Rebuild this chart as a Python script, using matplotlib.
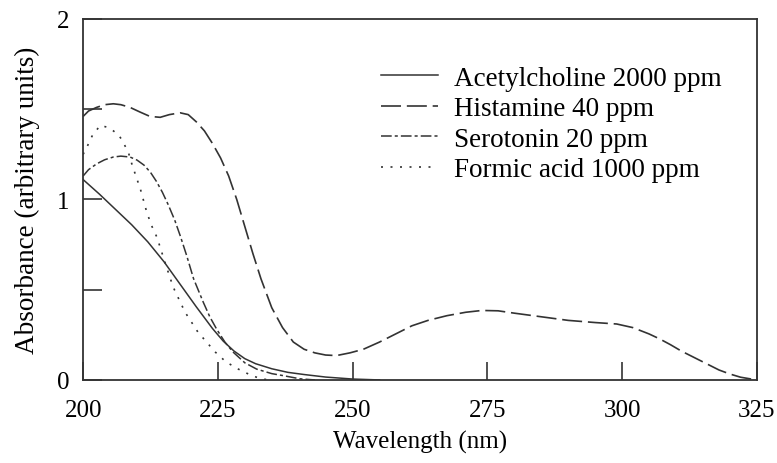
import matplotlib.pyplot as plt
from matplotlib.ticker import FixedLocator, NullFormatter

plt.rcParams['font.family'] = ['Liberation Serif', 'DejaVu Serif']

# acetylcholine 2000 ppm
ach_x = [200, 203, 206, 209, 212, 215, 218, 221, 224, 226, 228, 230, 232, 235, 238, 241, 245, 250, 255]
ach_y = [1.11, 1.03, 0.945, 0.86, 0.765, 0.655, 0.53, 0.405, 0.285, 0.215, 0.16, 0.118, 0.09, 0.062, 0.042, 0.03, 0.016, 0.005, 0.0]

# histamine 40 ppm
his_x = [200, 201, 202.5, 204, 205.6, 207, 208.7, 210.5, 212.4, 214.3, 216, 218, 219.5, 221, 222.5, 224, 225.5, 227, 228.5,
         230, 231.5, 233, 235, 237, 239, 241, 243, 245, 247, 249.5, 252, 255, 258, 261, 264, 267.5, 271, 274, 277,
         280, 285, 290, 295, 299, 302, 305, 307, 309, 311, 313, 315, 318, 320, 322, 325]
his_y = [1.46, 1.49, 1.51, 1.525, 1.53, 1.525, 1.51, 1.485, 1.46, 1.455, 1.47, 1.48, 1.47, 1.43, 1.38, 1.31, 1.23, 1.13, 1.00,
         0.85, 0.70, 0.56, 0.40, 0.29, 0.21, 0.17, 0.15, 0.138, 0.135, 0.15, 0.17, 0.21, 0.255, 0.30, 0.33, 0.356, 0.375, 0.385, 0.383,
         0.37, 0.35, 0.33, 0.318, 0.31, 0.29, 0.255, 0.227, 0.195, 0.16, 0.13, 0.10, 0.055, 0.033, 0.015, 0.0]

# serotonin 20 ppm
ser_x = [200, 201, 202.5, 204, 205.6, 207, 208.7, 210, 211.3, 212.5, 213.6, 214.7, 215.8, 217, 218, 219.2, 220.5, 222.3, 223.5, 224.8,
         226.3, 227.8, 230, 232.2, 235, 237.1, 240.3, 243]
ser_y = [1.13, 1.165, 1.197, 1.22, 1.235, 1.24, 1.235, 1.218, 1.19, 1.15, 1.10, 1.04, 0.97, 0.885, 0.80, 0.69, 0.56, 0.43, 0.35, 0.28,
         0.21, 0.155, 0.095, 0.06, 0.035, 0.024, 0.006, 0.0]

# formic acid 1000 ppm
for_x = [200, 200.7, 201.8, 203.2, 204.5, 205.6, 206.5, 207.2, 208.4, 209.0, 209.9, 210.6, 211.8, 212.7, 213.7, 215.2, 216.7, 218.9,
         221.3, 224.5, 226.5, 228.8, 231, 233.1, 235]
for_y = [1.25, 1.29, 1.36, 1.41, 1.40, 1.38, 1.36, 1.33, 1.26, 1.20, 1.12, 1.06, 0.93, 0.855, 0.79, 0.65, 0.515, 0.376,
         0.265, 0.155, 0.10, 0.06, 0.028, 0.005, 0.0]

col = '#333333'
fig = plt.figure(figsize=(7.77, 4.64), dpi=100)
ax = fig.add_axes([0.107, 0.179, 0.867, 0.778])

ax.plot(ach_x, ach_y, color=col, lw=1.1, ls='-', label='Acetylcholine 2000 ppm')
ax.plot(his_x, his_y, color=col, lw=1.2, ls=(0, (12, 3.5)), label='Histamine 40 ppm')
ax.plot(ser_x, ser_y, color=col, lw=1.1, ls=(0, (7, 2, 2, 2)), label='Serotonin 20 ppm')
ax.plot(for_x, for_y, color=col, lw=1.2, ls=(0, (1.2, 4.5)), label='Formic acid 1000 ppm')

ax.set_xlim(200, 325)
ax.set_ylim(0, 2)
ax.set_xticks([200, 225, 250, 275, 300, 325])
ax.set_yticks([0, 1, 2])
ax.yaxis.set_minor_locator(FixedLocator([0.5, 1.5]))
ax.yaxis.set_minor_formatter(NullFormatter())
ax.tick_params(axis='x', direction='in', length=13, width=1.2, labelsize=18, pad=14, color=col)
ax.tick_params(axis='y', direction='in', length=14, width=1.2, labelsize=18, pad=10, color=col)
ax.tick_params(axis='y', which='minor', direction='in', length=14, width=1.2, color=col)
for s in ax.spines.values():
    s.set_linewidth(1.3)
    s.set_color(col)

ax.set_xlabel('Wavelength (nm)', fontsize=18, labelpad=6)
ax.set_ylabel('Absorbance (arbitrary units)', fontsize=19.5, labelpad=12)

ax.legend(loc='upper left', bbox_to_anchor=(0.442, 0.87), frameon=False, fontsize=19.5,
          handlelength=2.1, handletextpad=0.6, labelspacing=0.2, borderpad=0, borderaxespad=0)

fig.savefig('out.png', dpi=100)
